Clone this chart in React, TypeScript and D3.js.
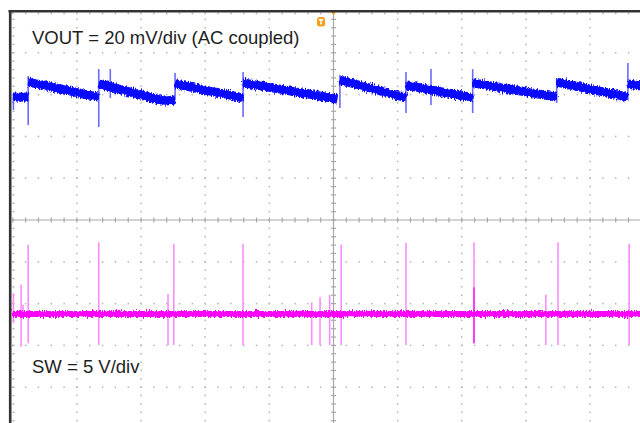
import React from 'react';
import * as d3 from 'd3';

const W = 640;
const H = 423;

// Time axis in divisions (10 div across, centre = trigger), vertical in divisions
const timeDomain: [number, number] = [-5, 5];
const divDomain: [number, number] = [-5, 5];
const majorDivs = [-4, -3, -2, -1, 1, 2, 3, 4];
const minorStep = 0.2;

// Channel settings
const voutScaleMvPerDiv = 20;
const voutOffsetDiv = 3;
const swScaleVPerDiv = 5;
const swOffsetDiv = -2.25;

const voutLabel = 'VOUT = 20 mV/div (AC coupled)';
const swLabel = 'SW = 5 V/div';

// VOUT ripple ramps: each a list of [time(div), mV]
const voutRamps: [number, number][][] = [
  [[-5.0, -1.2], [-4.76, -1.2]],
  [[-4.76, 6.0], [-3.66, -1.2]],
  [[-3.66, 5.1], [-2.63, -3.1], [-2.47, -2.6]],
  [[-2.47, 5.1], [-1.41, -1.6]],
  [[-1.41, 5.6], [0.06, -2.1]],
  [[0.1, 7.0], [1.13, -1.6]],
  [[1.13, 4.6], [2.17, -1.6]],
  [[2.17, 5.6], [3.48, -1.2]],
  [[3.48, 6.0], [4.59, -1.2]],
  [[4.59, 5.1], [4.8, 4.1]],
];

// VOUT switching spikes: [time(div), top mV, bottom mV]
const voutSpikes: [number, number, number][] = [
  [-4.99, -1.2, -7.4],
  [-4.76, 8.9, -14.5],
  [-3.66, 12.2, -15.5],
  [-3.48, 12.2, -1.6],
  [-2.47, 10.3, -2.6],
  [-1.41, 10.8, -10.7],
  [0.1, 9.4, -6.4],
  [1.13, 10.8, -8.8],
  [1.52, 12.2, -5.0],
  [2.17, 12.2, -8.8],
  [3.48, 7.9, -4.0],
  [4.59, 15.1, -2.6],
];

// SW baseline and pulses: [time(div), top V, bottom V]
const swBaseline: [number, number][] = [[-5.0, 0], [4.8, 0]];
const swPulses: [number, number, number][] = [
  [-4.99, 2.5, -1.1],
  [-4.87, 3.5, -3.9],
  [-4.84, 1.1, -0.5],
  [-4.76, 8.3, -3.5],
  [-3.66, 8.6, -3.7],
  [-2.58, 2.4, -3.7],
  [-2.49, 8.4, -3.7],
  [-1.41, 8.4, -3.7],
  [-0.34, 1.4, -3.7],
  [-0.21, 2.0, -3.7],
  [-0.06, 2.3, -3.7],
  [0.12, 8.3, -3.7],
  [1.13, 8.5, -3.7],
  [2.19, 8.6, -3.5],
  [3.31, 2.3, -3.7],
  [3.5, 8.6, -3.7],
  [4.61, 8.4, -3.7],
];
const swDense: [number, number, number][] = [[2.19, 3.2, -3.5]];

export default function App() {
  const x = d3.scaleLinear().domain(timeDomain).range([12.8, 654.2]);
  const yDiv = d3.scaleLinear().domain(divDomain).range([429, 11]);
  const yV = (mv: number) => yDiv(voutOffsetDiv + mv / voutScaleMvPerDiv);
  const yS = (v: number) => yDiv(swOffsetDiv + v / swScaleVPerDiv);

  const minors = d3.range(-5, 5.0001, minorStep);

  const voutLine = d3
    .line<[number, number]>()
    .x((d) => x(d[0]))
    .y((d) => yV(d[1]));
  const swLine = d3
    .line<[number, number]>()
    .x((d) => x(d[0]))
    .y((d) => yS(d[1]));

  const dots: JSX.Element[] = [];
  majorDivs.forEach((d) => {
    minors.forEach((m, i) => {
      dots.push(<rect key={`v${d}_${i}`} x={x(d) - 0.75} y={yDiv(m) - 0.75} width={1.5} height={1.5} fill="#b4b4b4" />);
      dots.push(<rect key={`h${d}_${i}`} x={x(m) - 0.75} y={yDiv(d) - 0.75} width={1.5} height={1.5} fill="#b4b4b4" />);
    });
  });
  // edge ticks (top and left)
  minors.forEach((m, i) => {
    dots.push(<rect key={`t${i}`} x={x(m) - 0.75} y={12.5} width={1.5} height={1.8} fill="#b4b4b4" />);
    dots.push(<rect key={`l${i}`} x={12.5} y={yDiv(m) - 0.75} width={2} height={1.5} fill="#b4b4b4" />);
  });

  const cx = x(0);
  const cy = yDiv(0);

  return (
    <svg
      width={W}
      height={H}
      style={{ position: 'absolute', left: 0, top: 0, background: '#fff' }}
      fontFamily="'Liberation Sans', Arial, sans-serif"
    >
      <defs>
        <filter id="jitter" filterUnits="userSpaceOnUse" x={0} y={0} width={W} height={H}>
          <feTurbulence type="fractalNoise" baseFrequency="0.9 0.25" numOctaves={2} seed={7} result="t" />
          <feDisplacementMap in="SourceGraphic" in2="t" scale={6} xChannelSelector="B" yChannelSelector="G" />
        </filter>
      </defs>
      <rect x={0} y={0} width={W} height={H} fill="#fff" />
      {/* graticule */}
      <g>{dots}</g>
      <line x1={x(-5)} x2={W} y1={cy} y2={cy} stroke="#a8a8a8" strokeWidth={1.2} />
      <line x1={cx} x2={cx} y1={11} y2={H} stroke="#a8a8a8" strokeWidth={1.2} />
      {minors.map((m, i) => (
        <line key={`cxt${i}`} x1={x(m)} x2={x(m)} y1={cy - 2.5} y2={cy + 2.5} stroke="#a8a8a8" strokeWidth={1.2} />
      ))}
      {minors.map((m, i) => (
        <line key={`cyt${i}`} x1={cx - 2.5} x2={cx + 2.5} y1={yDiv(m)} y2={yDiv(m)} stroke="#a8a8a8" strokeWidth={1.2} />
      ))}

      {/* SW trace */}
      <g>
        {swPulses.map((p, i) => (
          <line key={`sp${i}`} x1={x(p[0])} x2={x(p[0])} y1={yS(p[1])} y2={yS(p[2])} stroke="#ff8cff" strokeWidth={1.6} />
        ))}
        {swDense.map((p, i) => (
          <line key={`sd${i}`} x1={x(p[0])} x2={x(p[0])} y1={yS(p[1])} y2={yS(p[2])} stroke="#ff22ff" strokeWidth={1.6} />
        ))}
        <path d={swLine(swBaseline) || ''} stroke="#ff00ff" strokeWidth={6} fill="none" filter="url(#jitter)" />
        <path d={swLine(swBaseline) || ''} stroke="#ff00ff" strokeWidth={4.5} fill="none" />
      </g>

      {/* VOUT trace */}
      <g>
        {voutSpikes.map((p, i) => (
          <line key={`vp${i}`} x1={x(p[0])} x2={x(p[0])} y1={yV(p[1])} y2={yV(p[2])} stroke="#6a6aff" strokeWidth={1.6} />
        ))}
        {voutRamps.map((seg, i) => (
          <path key={`vr${i}`} d={voutLine(seg) || ''} stroke="#0a0aff" strokeWidth={9} fill="none" filter="url(#jitter)" />
        ))}
        {voutRamps.map((seg, i) => (
          <path key={`vc${i}`} d={voutLine(seg) || ''} stroke="#0a0aff" strokeWidth={6.5} fill="none" />
        ))}
      </g>

      {/* labels */}
      <text x={32} y={44} fontSize={18.5} fill="#1e1e1e">{voutLabel}</text>
      <text x={32} y={373} fontSize={18.5} fill="#1e1e1e">{swLabel}</text>

      {/* trigger markers */}
      <polygon points={`${cx - 3.5},11 ${cx + 3.5},11 ${cx},15`} fill="#f5a01a" />
      <rect x={317} y={17} width={8} height={9.5} rx={2.5} fill="#f5a01a" />
      <rect x={318.8} y={19} width={4.4} height={1.5} fill="#fff" />
      <rect x={320.25} y={19} width={1.5} height={5.5} fill="#fff" />

      {/* frame */}
      <line x1={8.5} x2={W} y1={11.2} y2={11.2} stroke="#333" strokeWidth={2.6} />
      <line x1={10.2} x2={10.2} y1={10} y2={H} stroke="#333" strokeWidth={2.6} />
    </svg>
  );
}
